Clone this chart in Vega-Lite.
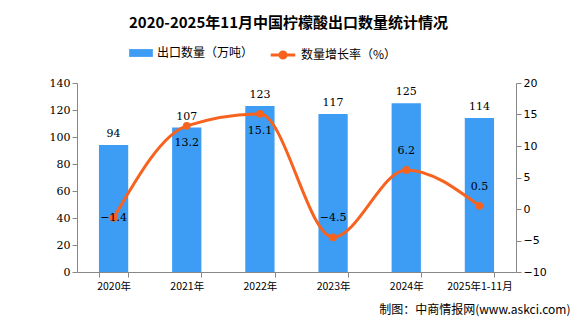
{
  "$schema": "https://vega.github.io/schema/vega-lite/v6.json",
  "width": 439,
  "height": 189,
  "autosize": "none",
  "padding": {"left": 77, "top": 83, "right": 60, "bottom": 55},
  "background": "white",
  "title": {
    "text": "2020-2025年11月中国柠檬酸出口数量统计情况",
    "font": "Noto Sans CJK SC",
    "fontSize": 15,
    "fontWeight": "bold",
    "color": "#000000",
    "anchor": "middle",
    "dx": -8,
    "offset": 10
  },
  "data": {
    "values": [
      {"year": "2020年", "qty": 94, "growth": -1.4, "pos": "mid"},
      {"year": "2021年", "qty": 107, "growth": 13.2, "pos": "below"},
      {"year": "2022年", "qty": 123, "growth": 15.1, "pos": "below"},
      {"year": "2023年", "qty": 117, "growth": -4.5, "pos": "above"},
      {"year": "2024年", "qty": 125, "growth": 6.2, "pos": "above"},
      {"year": "2025年1-11月", "qty": 114, "growth": 0.5, "pos": "above"}
    ]
  },
  "encoding": {
    "x": {
      "field": "year",
      "type": "nominal",
      "sort": null,
      "scale": {"paddingInner": 0.6, "paddingOuter": 0.3},
      "axis": {
        "title": "制图：中商情报网(www.askci.com)",
        "titleAnchor": "end",
        "titleAlign": "right",
        "titleFont": "Noto Sans CJK SC",
        "titleFontSize": 12,
        "titleFontWeight": "normal",
        "titleColor": "#000000",
        "titlePadding": 13,
        "titleX": 493,
        "labelAngle": 0,
        "labelFont": "Noto Sans CJK SC",
        "labelFontSize": 10.5,
        "labelColor": "#000000",
        "labelPadding": 4,
        "domainColor": "#888888",
        "tickColor": "#888888",
        "tickBand": "extent",
        "tickSize": 5
      }
    }
  },
  "layer": [
    {
      "mark": {"type": "bar", "color": "#3D9CF3"},
      "encoding": {
        "y": {
          "field": "qty",
          "type": "quantitative",
          "scale": {"domain": [0, 140]},
          "axis": {
            "title": null,
            "values": [0, 20, 40, 60, 80, 100, 120, 140],
            "grid": false,
            "labelFont": "DejaVu Serif",
            "labelFontSize": 11,
            "labelColor": "#000000",
            "domainColor": "#888888",
            "tickColor": "#888888",
            "tickSize": 5
          }
        },
        "fill": {
          "datum": "出口数量（万吨）",
          "scale": {"range": ["#3D9CF3"]},
          "legend": {
            "title": null,
            "orient": "none",
            "legendX": 52,
            "legendY": -42,
            "symbolType": "M-1,-0.33 H1 V0.33 H-1 Z",
            "symbolSize": 560,
            "symbolStrokeWidth": 0,
            "labelFont": "Noto Sans CJK SC",
            "labelFontSize": 12,
            "labelColor": "#000000",
            "labelOffset": 4
          }
        }
      }
    },
    {
      "mark": {"type": "text", "dy": -11, "font": "DejaVu Serif", "fontSize": 11, "color": "#000000"},
      "encoding": {
        "y": {"field": "qty", "type": "quantitative", "scale": {"domain": [0, 140]}, "axis": null},
        "text": {"field": "qty", "type": "quantitative"}
      }
    },
    {
      "layer": [
        {
          "mark": {"type": "line", "interpolate": "monotone", "strokeWidth": 3, "color": "#F7631F"},
          "encoding": {
            "stroke": {
              "datum": "数量增长率（%）",
              "scale": {"range": ["#F7631F"]},
              "legend": {
                "title": null,
                "orient": "none",
                "legendX": 192,
                "legendY": -42,
                "symbolType": "M-1,0 H1 M0.25,0 A0.25,0.25 0 1,1 -0.25,0 A0.25,0.25 0 1,1 0.25,0 Z",
                "symbolSize": 600,
                "symbolStrokeWidth": 3,
                "symbolFillColor": "#F7631F",
                "labelFont": "Noto Sans CJK SC",
                "labelFontSize": 12,
                "labelColor": "#000000",
                "labelOffset": 4
              }
            }
          }
        },
        {
          "mark": {"type": "point", "shape": "circle", "filled": true, "size": 60, "opacity": 1, "color": "#F7631F"}
        },
        {
          "transform": [{"filter": "datum.pos === 'mid'"}],
          "mark": {"type": "text", "dy": 0, "font": "DejaVu Serif", "fontSize": 11, "color": "#000000"},
          "encoding": {"text": {"field": "growth", "type": "quantitative", "format": ".1f"}}
        },
        {
          "transform": [{"filter": "datum.pos === 'below'"}],
          "mark": {"type": "text", "dy": 17, "font": "DejaVu Serif", "fontSize": 11, "color": "#000000"},
          "encoding": {"text": {"field": "growth", "type": "quantitative", "format": ".1f"}}
        },
        {
          "transform": [{"filter": "datum.pos === 'above'"}],
          "mark": {"type": "text", "dy": -19, "font": "DejaVu Serif", "fontSize": 11, "color": "#000000"},
          "encoding": {"text": {"field": "growth", "type": "quantitative", "format": ".1f"}}
        }
      ],
      "encoding": {
        "y": {
          "field": "growth",
          "type": "quantitative",
          "scale": {"domain": [-10, 20]},
          "axis": {
            "title": null,
            "orient": "right",
            "values": [-10, -5, 0, 5, 10, 15, 20],
            "grid": false,
            "labelFont": "DejaVu Sans",
            "labelFontSize": 11,
            "labelColor": "#000000",
            "domainColor": "#888888",
            "tickColor": "#888888",
            "tickSize": 5
          }
        }
      }
    }
  ],
  "resolve": {"scale": {"y": "independent"}},
  "config": {
    "view": {"stroke": null},
    "axis": {"labelFlush": false}
  }
}
